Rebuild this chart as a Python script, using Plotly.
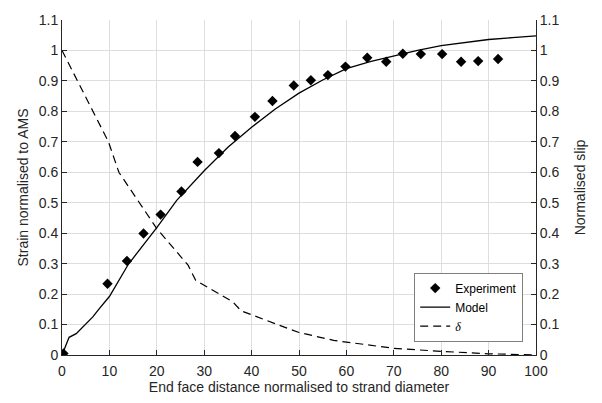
import plotly.graph_objects as go

# Measured strain (normalised to AMS) along the transfer length
exp_x = [0.3, 9.6, 13.7, 17.2, 20.8, 25.2, 28.6, 33.1, 36.5, 40.7, 44.4, 48.9,
         52.5, 56.1, 59.8, 64.4, 68.4, 71.9, 75.7, 80.2, 84.2, 87.8, 92.0]
exp_y = [0.005, 0.234, 0.309, 0.399, 0.461, 0.537, 0.634, 0.663, 0.719, 0.782, 0.834, 0.885,
         0.902, 0.919, 0.947, 0.976, 0.963, 0.989, 0.988, 0.988, 0.963, 0.965, 0.972]

# Model prediction of strain
model_x = [0, 1.5, 3, 5, 6.5, 8, 10, 14, 20, 24.2, 30, 35, 40, 45, 50, 55, 60,
           65, 70, 75, 80, 85, 90, 95, 100]
model_y = [0.0, 0.058, 0.070, 0.100, 0.125, 0.155, 0.192, 0.298, 0.418, 0.508, 0.605, 0.682,
           0.748, 0.808, 0.860, 0.903, 0.940, 0.963, 0.982, 1.000, 1.016, 1.027, 1.036,
           1.042, 1.048]

# Normalised slip (delta)
slip_x = [0, 9.8, 12, 20, 26.6, 28.2, 36, 37.8, 47.5, 50, 57.3, 60, 70, 80, 90, 100]
slip_y = [1.0, 0.700, 0.600, 0.415, 0.295, 0.245, 0.175, 0.145, 0.088, 0.074, 0.048,
          0.042, 0.022, 0.012, 0.004, 0.0]

x_ticks = list(range(0, 101, 10))
y_ticks = [round(0.1 * i, 1) for i in range(12)]
y_labels = ["0", "0.1", "0.2", "0.3", "0.4", "0.5", "0.6", "0.7", "0.8", "0.9", "1", "1.1"]

FONT = "Liberation Sans, Arial, sans-serif"
INK = "#262626"

fig = go.Figure()
fig.add_trace(go.Scatter(
    x=exp_x, y=exp_y, mode="markers", name="Experiment",
    marker=dict(symbol="diamond", size=8, color="black"),
))
fig.add_trace(go.Scatter(
    x=model_x, y=model_y, mode="lines", name="Model",
    line=dict(color="black", width=1.3),
))
fig.add_trace(go.Scatter(
    x=slip_x, y=slip_y, mode="lines", yaxis="y2",
    name="<span style='font-family:Liberation Serif, Times New Roman, serif'><i>δ</i></span>",
    line=dict(color="black", width=1.2, dash="8px,5px"),
))

axis_common = dict(
    showline=True, linecolor=INK, linewidth=1,
    ticks="inside", ticklen=5, tickcolor=INK,
    tickfont=dict(size=14, color=INK, family=FONT),
    zeroline=False,
)

fig.update_layout(
    width=602, height=403,
    margin=dict(l=62, r=66, t=13, b=42),
    paper_bgcolor="white", plot_bgcolor="white",
    font=dict(family=FONT, color=INK),
    showlegend=True,
    xaxis=dict(
        range=[0, 100], tickvals=x_ticks,
        showgrid=True, gridcolor="#dedede", gridwidth=1,
        ticklabelstandoff=3,
        title=dict(text="End face distance normalised to strand diameter",
                   font=dict(size=14, family=FONT, color=INK), standoff=2),
        **axis_common,
    ),
    yaxis=dict(
        range=[0, 1.1], tickvals=y_ticks, ticktext=y_labels,
        showgrid=True, gridcolor="#dedede", gridwidth=1,
        title=dict(text="Strain normalised to AMS",
                   font=dict(size=14, family=FONT, color=INK), standoff=6),
        **axis_common,
    ),
    yaxis2=dict(
        range=[0, 1.1], tickvals=y_ticks, ticktext=y_labels,
        overlaying="y", side="right", showgrid=False,
        title=dict(text="Normalised slip",
                   font=dict(size=14, family=FONT, color=INK), standoff=16),
        **axis_common,
    ),
    legend=dict(
        x=0.973, y=0.04, xanchor="right", yanchor="bottom",
        bgcolor="white", bordercolor="#7f7f7f", borderwidth=1,
        font=dict(size=12, family=FONT, color="black"),
        tracegroupgap=0, itemwidth=30,
    ),
)

fig.write_html("out.html")
